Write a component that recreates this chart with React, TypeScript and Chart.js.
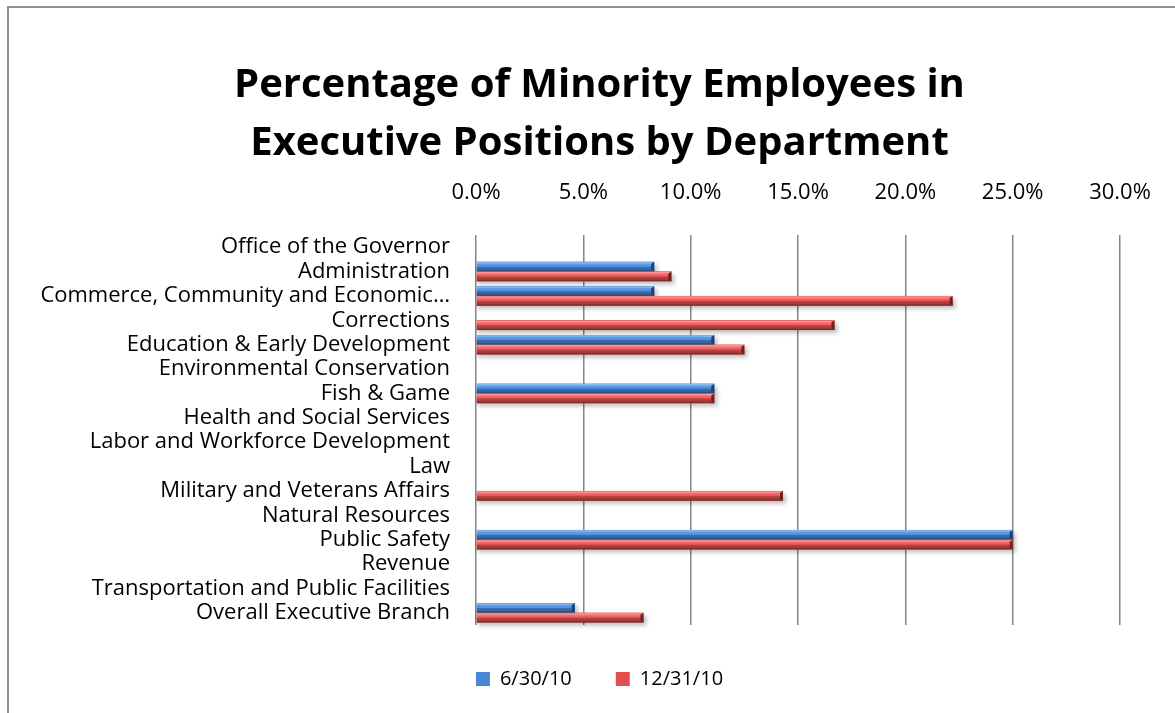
import React, { useEffect, useRef } from "react";
import { Chart, registerables } from "chart.js";

Chart.register(...registerables);

const titleLines = ["Percentage of Minority Employees in", "Executive Positions by Department"];

const categories = [
  "Office of the Governor",
  "Administration",
  "Commerce, Community and Economic\u2026",
  "Corrections",
  "Education & Early Development",
  "Environmental Conservation",
  "Fish & Game",
  "Health and Social Services",
  "Labor and Workforce Development",
  "Law",
  "Military and Veterans Affairs",
  "Natural Resources",
  "Public Safety",
  "Revenue",
  "Transportation and Public Facilities",
  "Overall Executive Branch",
];

const seriesJuneLabel = "6/30/10";
const seriesJune = [0, 8.3, 8.3, 0, 11.1, 0, 11.1, 0, 0, 0, 0, 0, 25.0, 0, 0, 4.6];

const seriesDecLabel = "12/31/10";
const seriesDec = [0, 9.1, 22.2, 16.7, 12.5, 0, 11.1, 0, 0, 0, 14.3, 0, 25.0, 0, 0, 7.8];

const axisMin = 0;
const axisMax = 30;
const axisStep = 5;

const FONT = "'Open Sans', Lato, sans-serif";

const palettes = [
  {
    solid: "#4a86d4",
    border: "#223f68",
    stops: ["#5f95d8", "#8dbff5", "#5f9dea", "#4f8fe0", "#3d6dad", "#33609a", "#223f68"],
  },
  {
    solid: "#e24f4f",
    border: "#6a2222",
    stops: ["#d85a5a", "#ff9a9a", "#f87070", "#e85656", "#b84242", "#a03838", "#6a2222"],
  },
];
const stopPos = [0, 0.1, 0.25, 0.47, 0.56, 0.82, 1];

const bevelPlugin = {
  id: "bevel",
  beforeDatasetsDraw(chart: any) {
    const ctx = chart.ctx;
    ctx.save();
    ctx.filter = "blur(2px)";
    ctx.fillStyle = "rgba(0,0,0,0.25)";
    chart.data.datasets.forEach((_: any, di: number) => {
      const meta = chart.getDatasetMeta(di);
      meta.data.forEach((bar: any) => {
        const p = bar.getProps(["x", "y", "base", "height"], true);
        const w = p.x - p.base;
        if (w <= 0.5) return;
        ctx.fillRect(p.base + 1, p.y - p.height / 2 + 3, w + 2, p.height);
      });
    });
    ctx.restore();
  },
  afterDatasetsDraw(chart: any) {
    const ctx = chart.ctx;
    chart.data.datasets.forEach((_: any, di: number) => {
      const meta = chart.getDatasetMeta(di);
      const pal = palettes[di];
      meta.data.forEach((bar: any) => {
        const p = bar.getProps(["x", "y", "base", "height"], true);
        const w = p.x - p.base;
        if (w <= 0.5) return;
        const top = p.y - p.height / 2;
        const bottom = p.y + p.height / 2;
        const g = ctx.createLinearGradient(0, top, 0, bottom);
        pal.stops.forEach((c, i) => g.addColorStop(stopPos[i], c));
        ctx.save();
        ctx.fillStyle = g;
        ctx.fillRect(p.base, top, w, p.height);
        ctx.fillStyle = pal.border;
        ctx.beginPath();
        ctx.moveTo(p.x - 3, top + 2);
        ctx.lineTo(p.x, top);
        ctx.lineTo(p.x, bottom);
        ctx.lineTo(p.x - 3, bottom - 2);
        ctx.closePath();
        ctx.fill();
        ctx.restore();
      });
    });
  },
};

export default function App() {
  const ref = useRef<HTMLCanvasElement | null>(null);

  useEffect(() => {
    if (!ref.current) return;
    const chart = new Chart(ref.current, {
      type: "bar",
      data: {
        labels: categories,
        datasets: [
          {
            label: seriesJuneLabel,
            data: seriesJune,
            backgroundColor: palettes[0].solid,
            borderColor: palettes[0].border,
            borderWidth: 0,
            categoryPercentage: 0.8,
            barPercentage: 1.0,
          },
          {
            label: seriesDecLabel,
            data: seriesDec,
            backgroundColor: palettes[1].solid,
            borderColor: palettes[1].border,
            borderWidth: 0,
            categoryPercentage: 0.8,
            barPercentage: 1.0,
          },
        ],
      },
      options: {
        indexAxis: "y",
        responsive: false,
        animation: false,
        layout: { padding: { left: 0, right: 0, top: 0, bottom: 14 } },
        scales: {
          x: {
            type: "linear",
            position: "top",
            min: axisMin,
            max: axisMax,
            ticks: {
              stepSize: axisStep,
              color: "#000",
              font: { family: FONT, size: 22 },
              padding: 29,
              callback: (v: any) => Number(v).toFixed(1) + "%",
            },
            grid: { color: "#868686", lineWidth: 1.5, drawTicks: false },
            border: { display: false },
            afterFit: (s: any) => {
              s.height = 62;
            },
          },
          y: {
            type: "category",
            position: "left",
            ticks: {
              color: "#000",
              font: { family: FONT, size: 22 },
              padding: 26,
              autoSkip: false,
            },
            grid: { display: false, drawTicks: false },
            border: { display: false },
            afterFit: (s: any) => {
              s.width = 469;
            },
          },
          rightSpace: {
            type: "linear",
            position: "right",
            display: true,
            ticks: { display: false },
            grid: { display: false, drawTicks: false },
            border: { display: false },
            afterFit: (s: any) => {
              s.width = 72;
            },
          },
        },
        plugins: {
          title: {
            display: true,
            text: titleLines,
            color: "#000",
            font: { family: FONT, size: 40, weight: "bold", lineHeight: 58 / 40 },
            padding: { top: 57, bottom: 0 },
          },
          legend: {
            display: true,
            position: "bottom",
            labels: {
              color: "#000",
              font: { family: FONT, size: 20 },
              boxWidth: 14,
              boxHeight: 14,
              padding: 44,
            },
          },
          tooltip: { enabled: false },
        },
      },
      plugins: [bevelPlugin],
    });
    return () => chart.destroy();
  }, []);

  return (
    <div style={{ position: "fixed", left: 0, top: 0, width: 1175, height: 713, overflow: "hidden", background: "#fff" }}>
      <div
        style={{
          position: "absolute",
          left: 7,
          top: 6,
          width: 1400,
          height: 1000,
          borderTop: "2px solid #8e8e8e",
          borderLeft: "2px solid #8e8e8e",
        }}
      />
      <canvas ref={ref} width={1185} height={713} style={{ position: "absolute", left: 7, top: 0, width: 1185, height: 713 }} />
    </div>
  );
}
